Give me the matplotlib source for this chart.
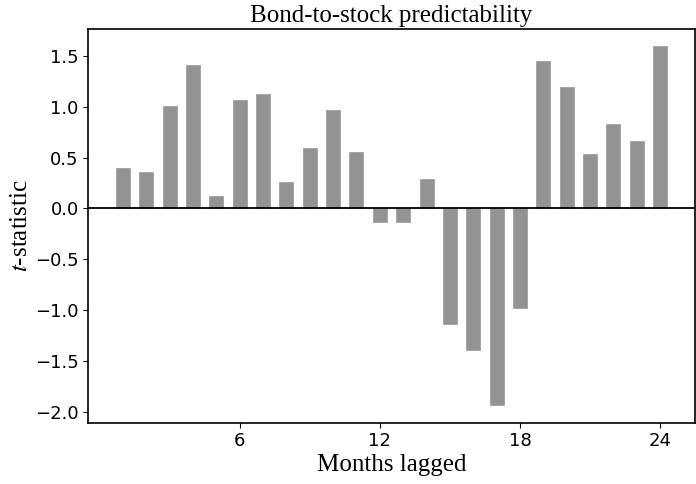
import numpy as np
import matplotlib
matplotlib.use("Agg")
import matplotlib.pyplot as plt

months = np.arange(1, 25)
tstats = [0.40, 0.36, 1.01, 1.41, 0.12, 1.06, 1.12, 0.26, 0.59, 0.97, 0.555, -0.13,
          -0.13, 0.29, -1.13, -1.39, -1.925, -0.98, 1.45, 1.19, 0.53, 0.83, 0.66, 1.59]
xticks = [6, 12, 18, 24]

plt.rcParams["mathtext.fontset"] = "stix"
serif = {"family": "Liberation Serif"}

fig, ax = plt.subplots(figsize=(6.96, 4.84), dpi=100)
ax.bar(months, tstats, width=0.6, color="#939393", edgecolor="#a0a0a0", linewidth=0.6)
ax.axhline(0, color="black", linewidth=1.3)

ax.set_xticks(xticks)
ax.tick_params(labelsize=13)
ax.set_title("Bond-to-stock predictability", fontsize=18, pad=5, **serif)
ax.set_xlabel("Months lagged", fontsize=18, labelpad=3, **serif)
ax.set_ylabel("$t$-statistic", fontsize=18, labelpad=2, **serif)
for s in ax.spines.values():
    s.set_linewidth(1.2)

plt.subplots_adjust(left=0.127, right=0.998, top=0.941, bottom=0.127)
plt.savefig("out.png")
